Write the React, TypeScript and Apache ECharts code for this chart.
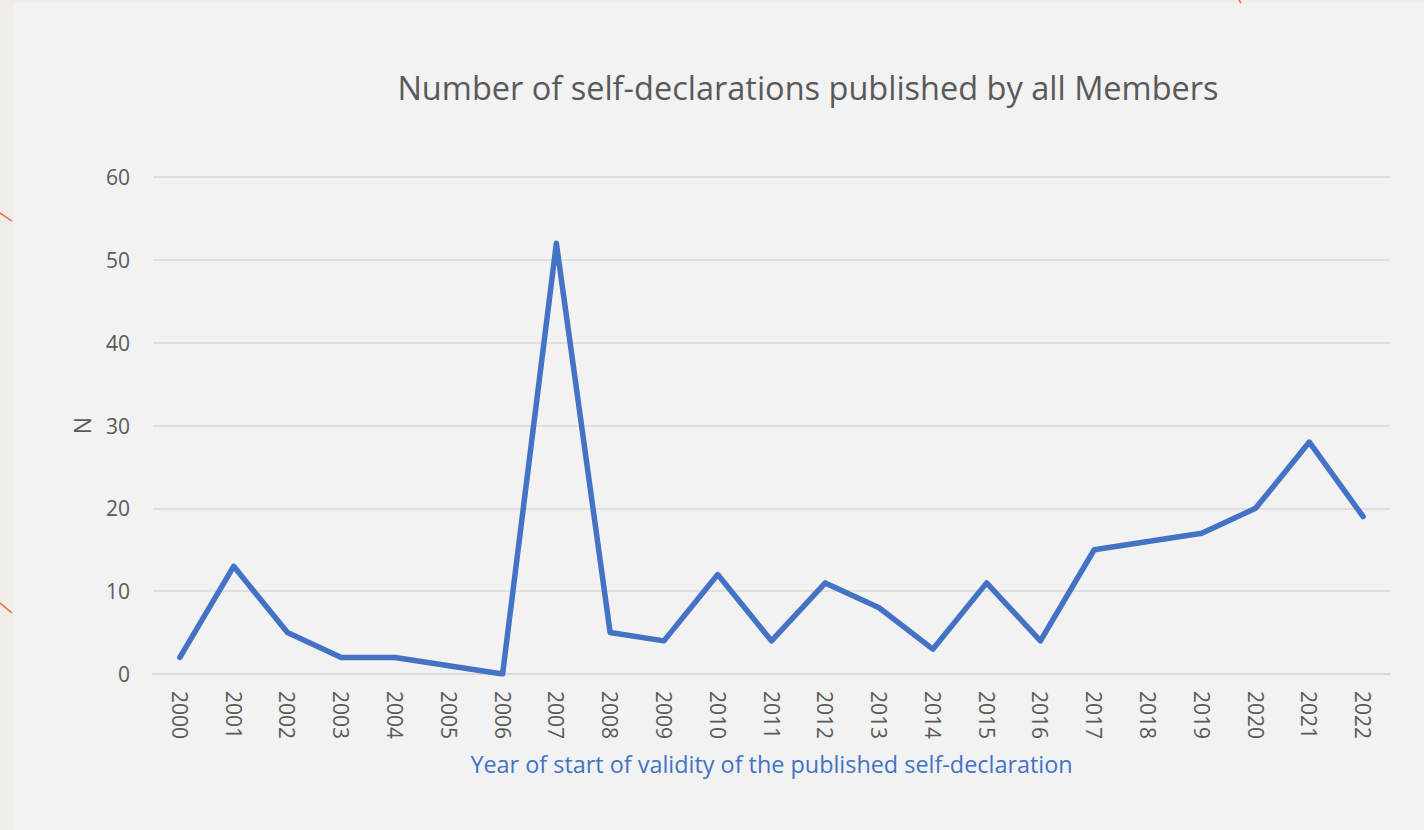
import React, { useEffect, useRef } from "react";
import * as echarts from "echarts";

const years = ["2000","2001","2002","2003","2004","2005","2006","2007","2008","2009","2010","2011","2012","2013","2014","2015","2016","2017","2018","2019","2020","2021","2022"];
const counts = [2, 13, 5, 2, 2, 1, 0, 52, 5, 4, 12, 4, 11, 8, 3, 11, 4, 15, 16, 17, 20, 28, 19];
const yTicks = { min: 0, max: 60, interval: 10 };
const titleText = "Number of self-declarations published by all Members";
const xName = "Year of start of validity of the published self-declaration";
const yName = "N";

const FONT = "'Open Sans', 'Noto Sans', sans-serif";

export default function App() {
  const ref = useRef<HTMLDivElement>(null);
  useEffect(() => {
    document.body.style.margin = "0";
    const chart = echarts.init(ref.current!, null, { renderer: "svg" });
    chart.setOption({
      animation: false,
      backgroundColor: "#eeede8",
      textStyle: { fontFamily: FONT },
      graphic: [
        { type: "rect", z: -10, shape: { x: 13, y: 3, width: 1411, height: 827 }, style: { fill: "#f2f2f2" }, silent: true },
        { type: "line", z: -9, shape: { x1: 0, y1: 213, x2: 12, y2: 221 }, style: { stroke: "#f4623a", lineWidth: 1.5 } },
        { type: "line", z: -9, shape: { x1: 0, y1: 603, x2: 12, y2: 613 }, style: { stroke: "#f4623a", lineWidth: 1.5 } },
        { type: "line", z: -9, shape: { x1: 1239, y1: 0, x2: 1241, y2: 3 }, style: { stroke: "#f4623a", lineWidth: 1.5 } },
        {
          type: "text",
          x: 808,
          y: 87,
          style: { text: titleText, fontSize: 32.5, fontFamily: FONT, fill: "#595959", align: "center", verticalAlign: "middle" },
        },
      ],
      grid: { left: 153, right: 34, top: 177, bottom: 156, containLabel: false },
      xAxis: {
        type: "category",
        data: years,
        boundaryGap: true,
        axisTick: { show: false },
        axisLine: { lineStyle: { color: "#d9d9d9", width: 2 } },
        axisLabel: { rotate: -90, margin: 17, fontSize: 21, color: "#595959", fontFamily: FONT },
        name: xName,
        nameLocation: "middle",
        nameGap: 78,
        nameTextStyle: { fontSize: 23.4, color: "#4472c4", fontFamily: FONT },
      },
      yAxis: {
        type: "value",
        min: yTicks.min,
        max: yTicks.max,
        interval: yTicks.interval,
        axisLine: { show: false },
        axisTick: { show: false },
        splitLine: { lineStyle: { color: "#d9d9d9", width: 1.5 } },
        axisLabel: { margin: 23, fontSize: 21, color: "#595959", fontFamily: FONT },
        name: yName,
        nameLocation: "middle",
        nameGap: 60,
        nameTextStyle: { fontSize: 23, color: "#595959", fontFamily: FONT },
      },
      series: [
        {
          type: "line",
          data: counts,
          showSymbol: false,
          symbol: "none",
          lineStyle: { color: "#4472c4", width: 5.5, cap: "round", join: "round" },
          itemStyle: { color: "#4472c4" },
        },
      ],
    });
    return () => chart.dispose();
  }, []);
  return <div ref={ref} style={{ position: "absolute", left: 0, top: 0, width: 1424, height: 830 }} />;
}
